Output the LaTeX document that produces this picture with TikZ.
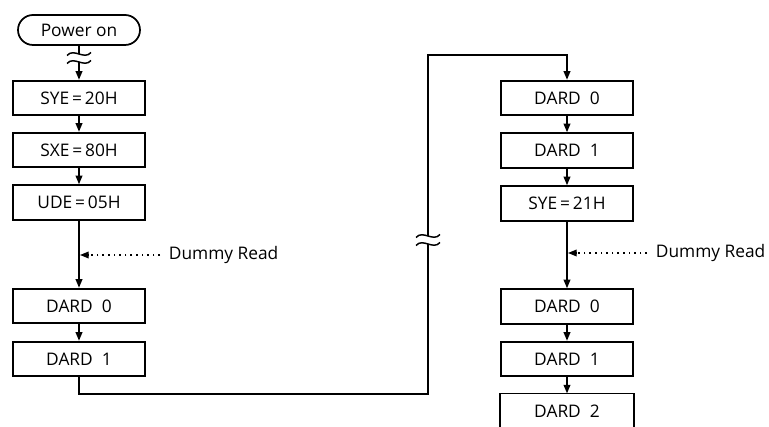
\documentclass[tikz,border=0pt]{standalone}
\usepackage{fontspec}
\setmainfont{Open Sans}
\usetikzlibrary{arrows.meta,shapes.misc,calc}
\begin{document}
\begin{tikzpicture}[x=0.75pt,y=-0.75pt,
  font=\fontsize{13pt}{15pt}\selectfont,
  line width=1.3pt,
  boxnode/.style={draw,rectangle,minimum width=99pt,minimum height=26pt,inner sep=0pt},
  termnode/.style={draw,rounded rectangle,minimum width=91.5pt,minimum height=22.5pt,inner sep=0pt},
  openbox/.style={rectangle,minimum width=99pt,minimum height=25pt,inner sep=0pt},
  flow/.style={-{Triangle[length=6.5pt,width=5pt]}},
  dotline/.style={line width=1pt,dash pattern=on 1.2pt off 3pt},
  wave/.style={line width=1.1pt}
]
\useasboundingbox (0,0) rectangle (769,427);
% left column
\node[termnode] (p) at (79,30) {Power on};
\node[boxnode] (s1) at (79,98) {SYE\,=\,20H};
\node[boxnode] (s2) at (79,150) {SXE\,=\,80H};
\node[boxnode] (s3) at (79,202.5) {UDE\,=\,05H};
\node[boxnode] (l0) at (79,306) {DARD\ \ 0};
\node[boxnode] (l1) at (79,359) {DARD\ \ 1};
% right column
\node[boxnode] (r0) at (567,98) {DARD\ \ 0};
\node[boxnode] (r1) at (567,150.5) {DARD\ \ 1};
\node[boxnode] (r2) at (567,203.5) {SYE\,=\,21H};
\node[boxnode] (r3) at (567,306.5) {DARD\ \ 0};
\node[boxnode] (r4) at (567,359) {DARD\ \ 1};
\node[openbox] (r5) at (567,411) {DARD\ \ 2};
\draw (r5.south west) -- (r5.north west) -- (r5.north east) -- (r5.south east);
% break on left
\coordinate (bu) at (79,54);
\coordinate (bl) at (79,62);
\draw (p.south) -- (bu);
\draw[flow] (bl) -- (s1.north);
\draw[wave] ($(bu)+(-12,1.5)$) .. controls +(7,-8) and +(-7,8) .. ($(bu)+(12,-1.5)$);
\draw[wave] ($(bl)+(-12,1.5)$) .. controls +(7,-8) and +(-7,8) .. ($(bl)+(12,-1.5)$);
\draw[flow] (s1.south) -- (s2.north);
\draw[flow] (s2.south) -- (s3.north);
\draw[flow] (s3.south) -- (l0.north);
\draw[flow] (l0.south) -- (l1.north);
% dummy read left
\coordinate (dl) at (79,255);
\node[anchor=west,inner sep=0pt] (dtl) at (168,255) {Dummy Read};
\draw[dotline] ($(dtl.west)+(-8,0)$) -- ($(dl)+(8,0)$);
\draw[-{Triangle[length=6.5pt,width=5pt]},line width=1pt] ($(dl)+(9,0)$) -- ($(dl)+(1,0)$);
% long connector
\coordinate (c1) at (79,394);
\coordinate (c2) at (428,394);
\coordinate (c3) at (428,244);
\coordinate (c4) at (428,236);
\coordinate (c5) at (428,55);
\coordinate (c6) at (567,55);
\draw (l1.south) -- (c1) -- (c2) -- (c3);
\draw[flow] (c4) -- (c5) -- (c6) -- (r0.north);
\draw[wave] ($(c4)+(-12,1.5)$) .. controls +(7,-8) and +(-7,8) .. ($(c4)+(12,-1.5)$);
\draw[wave] ($(c3)+(-12,1.5)$) .. controls +(7,-8) and +(-7,8) .. ($(c3)+(12,-1.5)$);
% right flow
\draw[flow] (r0.south) -- (r1.north);
\draw[flow] (r1.south) -- (r2.north);
\draw[flow] (r2.south) -- (r3.north);
\draw[flow] (r3.south) -- (r4.north);
\draw[flow] (r4.south) -- (r5.north);
% dummy read right
\coordinate (dr) at (567,253);
\node[anchor=west,inner sep=0pt] (dtr) at (655,253) {Dummy Read};
\draw[dotline] ($(dtr.west)+(-8,0)$) -- ($(dr)+(8,0)$);
\draw[-{Triangle[length=6.5pt,width=5pt]},line width=1pt] ($(dr)+(9,0)$) -- ($(dr)+(1,0)$);
\end{tikzpicture}
\end{document}
